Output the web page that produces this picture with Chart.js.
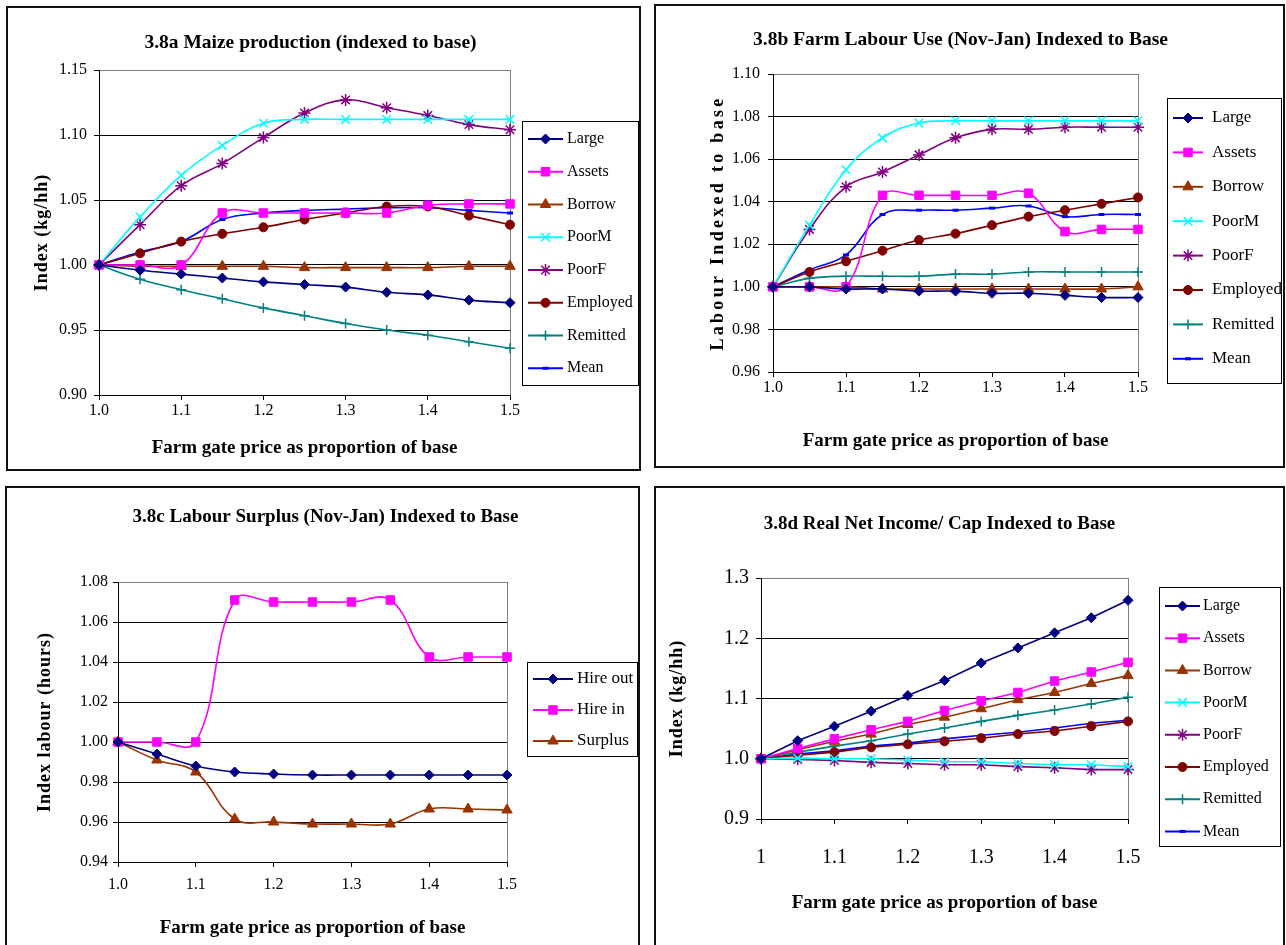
<!DOCTYPE html>
<html>
<head>
  <meta charset="UTF-8">
  <title>Figure 3.8 - price response indexed to base</title>
  <style>
    body {
      margin: 0;
      width: 1286px;
      height: 945px;
      overflow: hidden;
      background: #fff;
      position: relative;
    }

    .panel {
      position: absolute;
      border: 2px solid #111;
    }

    .panel canvas {
      display: block;
    }
  </style>
  <script src="https://cdn.jsdelivr.net/npm/chart.js"></script>
</head>
<body>
  <div class="panel" style="left:6px; top:6px;"><canvas id="chartA" width="631" height="461"></canvas></div>
  <div class="panel" style="left:654px; top:4px;"><canvas id="chartB" width="627" height="460"></canvas></div>
  <div class="panel" style="left:5px; top:486px;"><canvas id="chartC" width="631" height="460"></canvas></div>
  <div class="panel" style="left:654px; top:486px;"><canvas id="chartD" width="627" height="460"></canvas></div>

  <script>
    // farm gate price as proportion of base (x values, same for all panels)
    var price = [1.0, 1.05, 1.1, 1.15, 1.2, 1.25, 1.3, 1.35, 1.4, 1.45, 1.5];
    var groups = ['Large', 'Assets', 'Borrow', 'PoorM', 'PoorF', 'Employed', 'Remitted', 'Mean'];
    var labourGroups = ['Hire out', 'Hire in', 'Surplus'];

    // 3.8a maize production
    var maizeLarge    = [1.000, 0.996, 0.993, 0.990, 0.987, 0.985, 0.983, 0.979, 0.977, 0.973, 0.971];
    var maizeAssets   = [1.000, 1.000, 1.000, 1.040, 1.040, 1.040, 1.040, 1.040, 1.046, 1.047, 1.047];
    var maizeBorrow   = [1.000, 0.999, 0.999, 0.999, 0.999, 0.998, 0.998, 0.998, 0.998, 0.999, 0.999];
    var maizePoorM    = [1.000, 1.037, 1.069, 1.092, 1.109, 1.112, 1.112, 1.112, 1.112, 1.112, 1.112];
    var maizePoorF    = [1.000, 1.031, 1.061, 1.078, 1.098, 1.117, 1.127, 1.121, 1.115, 1.108, 1.104];
    var maizeEmployed = [1.000, 1.009, 1.018, 1.024, 1.029, 1.035, 1.040, 1.045, 1.045, 1.038, 1.031];
    var maizeRemitted = [1.000, 0.989, 0.981, 0.974, 0.967, 0.961, 0.955, 0.950, 0.946, 0.941, 0.936];
    var maizeMean     = [1.000, 1.010, 1.018, 1.035, 1.040, 1.042, 1.043, 1.044, 1.044, 1.042, 1.040];

    // 3.8b farm labour use (Nov-Jan)
    var labourLarge    = [1.000, 1.000, 0.999, 0.999, 0.998, 0.998, 0.997, 0.997, 0.996, 0.995, 0.995];
    var labourAssets   = [1.000, 1.000, 1.000, 1.043, 1.043, 1.043, 1.043, 1.044, 1.026, 1.027, 1.027];
    var labourBorrow   = [1.000, 1.000, 1.000, 0.999, 0.999, 0.999, 0.999, 0.999, 0.999, 0.999, 1.000];
    var labourPoorM    = [1.000, 1.029, 1.055, 1.070, 1.077, 1.078, 1.078, 1.078, 1.078, 1.078, 1.078];
    var labourPoorF    = [1.000, 1.027, 1.047, 1.054, 1.062, 1.070, 1.074, 1.074, 1.075, 1.075, 1.075];
    var labourEmployed = [1.000, 1.007, 1.012, 1.017, 1.022, 1.025, 1.029, 1.033, 1.036, 1.039, 1.042];
    var labourRemitted = [1.000, 1.004, 1.005, 1.005, 1.005, 1.006, 1.006, 1.007, 1.007, 1.007, 1.007];
    var labourMean     = [1.000, 1.008, 1.015, 1.034, 1.036, 1.036, 1.037, 1.038, 1.033, 1.034, 1.034];

    // 3.8c labour surplus (Nov-Jan)
    var hireOut = [1.000, 0.994, 0.988, 0.985, 0.984, 0.9835, 0.9835, 0.9835, 0.9835, 0.9835, 0.9835];
    var hireIn  = [1.000, 1.000, 1.000, 1.071, 1.070, 1.070, 1.070, 1.071, 1.0425, 1.0425, 1.0425];
    var surplus = [1.000, 0.991, 0.985, 0.9615, 0.960, 0.959, 0.959, 0.959, 0.9665, 0.9665, 0.966];

    // 3.8d real net income / cap
    var incomeLarge    = [1.000, 1.030, 1.054, 1.079, 1.105, 1.130, 1.159, 1.184, 1.209, 1.234, 1.263];
    var incomeAssets   = [1.000, 1.017, 1.033, 1.048, 1.062, 1.080, 1.096, 1.110, 1.129, 1.144, 1.160];
    var incomeBorrow   = [1.000, 1.015, 1.029, 1.041, 1.057, 1.069, 1.083, 1.098, 1.110, 1.125, 1.138];
    var incomePoorM    = [1.000, 1.001, 1.000, 1.000, 0.998, 0.995, 0.995, 0.992, 0.990, 0.990, 0.987];
    var incomePoorF    = [1.000, 0.999, 0.997, 0.994, 0.992, 0.990, 0.990, 0.987, 0.985, 0.982, 0.982];
    var incomeEmployed = [1.000, 1.006, 1.011, 1.019, 1.024, 1.029, 1.034, 1.041, 1.046, 1.054, 1.062];
    var incomeRemitted = [1.000, 1.011, 1.021, 1.030, 1.041, 1.051, 1.062, 1.072, 1.081, 1.091, 1.102];
    var incomeMean     = [1.000, 1.008, 1.013, 1.021, 1.026, 1.033, 1.039, 1.044, 1.051, 1.059, 1.064];

    // excel-ish series look
    var seriesStyles = [
      { color: '#000080', point: 'rectRot', r: 5, bw: 1 },
      { color: '#FF00FF', point: 'rect', r: 6, bw: 1 },
      { color: '#993300', point: 'triangle', r: 6, bw: 1 },
      { color: '#00FFFF', point: 'crossRot', r: 6, bw: 1.5 },
      { color: '#800080', point: 'star', r: 6, bw: 1.5 },
      { color: '#800000', point: 'circle', r: 4.5, bw: 1 },
      { color: '#008080', point: 'cross', r: 5, bw: 1.5 },
      { color: '#0000FF', point: 'line', r: 3, bw: 3 }
    ];

    Chart.defaults.font.family = '"Liberation Serif", "Times New Roman", serif';
    Chart.defaults.color = '#000';

    function makeDatasets(names, series, tension) {
      return names.map(function (name, i) {
        var st = seriesStyles[i];
        return {
          label: name,
          data: price.map(function (p, j) { return { x: p, y: series[i][j] }; }),
          borderColor: st.color,
          backgroundColor: st.color,
          borderWidth: 1.6,
          tension: tension,
          pointStyle: st.point,
          pointRadius: st.r,
          pointBorderWidth: st.bw,
          clip: false
        };
      });
    }

    // legend in a box with line + marker swatches
    var boxLegend = {
      id: 'boxLegend',
      afterDraw: function (chart, args, o) {
        var ctx = chart.ctx;
        ctx.save();
        ctx.strokeStyle = '#000';
        ctx.lineWidth = 1;
        ctx.strokeRect(o.left + 0.5, o.top + 0.5, o.right - o.left, o.bottom - o.top);
        ctx.font = o.size + 'px "Liberation Serif"';
        ctx.textBaseline = 'middle';
        ctx.textAlign = 'left';
        chart.data.datasets.forEach(function (ds, i) {
          var y = o.first + i * o.step;
          ctx.strokeStyle = ds.borderColor;
          ctx.lineWidth = 2;
          ctx.beginPath();
          ctx.moveTo(o.lineFrom, y);
          ctx.lineTo(o.lineTo, y);
          ctx.stroke();
          ctx.fillStyle = ds.backgroundColor;
          ctx.lineWidth = ds.pointBorderWidth;
          Chart.helpers.drawPoint(ctx, {
            pointStyle: ds.pointStyle, radius: ds.pointRadius, rotation: 0, borderWidth: ds.pointBorderWidth
          }, (o.lineFrom + o.lineTo) / 2, y);
          ctx.fillStyle = '#000';
          ctx.fillText(ds.label, o.text, y);
        });
        ctx.restore();
      }
    };

    // grey right edge of the plot area
    var plotFrame = {
      id: 'plotFrame',
      beforeDatasetsDraw: function (chart) {
        var a = chart.chartArea, ctx = chart.ctx;
        ctx.save();
        ctx.strokeStyle = '#808080';
        ctx.lineWidth = 1;
        ctx.beginPath();
        ctx.moveTo(Math.round(a.right) + 0.5, a.top);
        ctx.lineTo(Math.round(a.right) + 0.5, a.bottom);
        ctx.stroke();
        ctx.restore();
      }
    };

    // letter-spaced y axis title, and a wider, shifted box for the chart title
    var titleTweaks = {
      id: 'titleTweaks',
      afterLayout: function (chart, args, o) {
        var t = chart.titleBlock;
        if (t) {
          var c = (chart.chartArea.left + chart.chartArea.right) / 2 + o.shift;
          t.left = c - 300;
          t.right = c + 300;
          t.width = 600;
        }
        var s = chart.scales.y;
        if (s._spaced) return;
        var draw = s.drawTitle;
        s.drawTitle = function () {
          chart.ctx.save();
          chart.ctx.letterSpacing = o.spacing + 'px';
          draw.call(s);
          chart.ctx.restore();
        };
        s._spaced = true;
      }
    };

    function makeChart(id, datasets, cfg) {
      var ctx = document.getElementById(id).getContext('2d');
      return new Chart(ctx, {
        type: 'line',
        data: { datasets: datasets },
        plugins: [boxLegend, plotFrame, titleTweaks],
        options: {
          responsive: false,
          animation: false,
          events: [],
          layout: { padding: { left: 0, top: 0, right: cfg.padRight, bottom: 0 } },
          plugins: {
            legend: { display: false },
            tooltip: { enabled: false },
            title: {
              display: true,
              text: cfg.title,
              fullSize: false,
              color: '#000',
              font: { size: cfg.titleSize, weight: 'bold', lineHeight: 1.2 },
              padding: { top: cfg.titleTop, bottom: cfg.titleBottom }
            },
            boxLegend: cfg.legend,
            titleTweaks: { spacing: cfg.ySpacing, shift: cfg.titleShift }
          },
          scales: {
            x: {
              type: 'linear',
              min: 1,
              max: 1.5,
              afterFit: function (s) { s.height = cfg.xHeight; },
              grid: { drawOnChartArea: false, tickLength: 5, tickColor: '#000' },
              border: { color: '#000' },
              ticks: {
                stepSize: 0.1,
                padding: cfg.xPad,
                font: { size: cfg.tickSize },
                callback: cfg.xLabel
              },
              title: {
                display: true,
                text: 'Farm gate price as proportion of base',
                font: { size: 19, weight: 'bold' },
                padding: { top: 0, bottom: cfg.xTitleBottom }
              }
            },
            y: {
              min: cfg.yMin,
              max: cfg.yMax,
              afterFit: function (s) { s.width = cfg.yWidth; },
              grid: {
                color: function (c) {
                  return c.tick && Math.abs(c.tick.value - cfg.yMax) < 1e-6 ? '#808080' : '#000';
                },
                tickLength: 5,
                tickColor: '#000'
              },
              border: { color: '#000' },
              ticks: {
                stepSize: cfg.yStep,
                padding: cfg.yPad,
                font: { size: cfg.tickSize },
                callback: function (v) { return v.toFixed(cfg.yDec); }
              },
              title: {
                display: true,
                text: cfg.yTitle,
                font: { size: 18, weight: 'bold' },
                padding: { top: cfg.yTitleTop, bottom: 0 }
              }
            }
          }
        }
      });
    }

    function oneDecimal(v) { return v.toFixed(1); }

    makeChart('chartA', makeDatasets(groups,
      [maizeLarge, maizeAssets, maizeBorrow, maizePoorM, maizePoorF, maizeEmployed, maizeRemitted, maizeMean], 0.4), {
      title: '3.8a Maize production (indexed to base)', titleSize: 19.5, titleTop: 23.3, titleBottom: 15.3, titleShift: 6,
      padRight: 129, yWidth: 91, xHeight: 74, xPad: 1, xTitleBottom: 9.6, tickSize: 16, xLabel: oneDecimal,
      yMin: 0.9, yMax: 1.15, yStep: 0.05, yDec: 2, yPad: 7,
      yTitle: 'Index (kg/hh)', yTitleTop: 23.2, ySpacing: 1,
      legend: { left: 514, top: 113, right: 630, bottom: 377, first: 131, step: 32.75, lineFrom: 520, lineTo: 555, text: 559, size: 16 }
    });

    makeChart('chartB', makeDatasets(groups,
      [labourLarge, labourAssets, labourBorrow, labourPoorM, labourPoorF, labourEmployed, labourRemitted, labourMean], 0.4), {
      title: '3.8b Farm Labour Use (Nov-Jan) Indexed to Base', titleSize: 19.5, titleTop: 22.3, titleBottom: 22.3, titleShift: 5,
      padRight: 145, yWidth: 117, xHeight: 94, xPad: 1, xTitleBottom: 13.6, tickSize: 16, xLabel: oneDecimal,
      yMin: 0.96, yMax: 1.10, yStep: 0.02, yDec: 2, yPad: 8,
      yTitle: 'Labour Indexed to base', yTitleTop: 51.2, ySpacing: 3.3,
      legend: { left: 511, top: 92, right: 625, bottom: 377, first: 112, step: 34.4, lineFrom: 517, lineTo: 547, text: 556, size: 17 }
    });

    makeChart('chartC', makeDatasets(labourGroups, [hireOut, hireIn, surplus], 0.4), {
      title: '3.8c Labour Surplus (Nov-Jan) Indexed to Base', titleSize: 19, titleTop: 17.6, titleBottom: 53.6, titleShift: 13,
      padRight: 131, yWidth: 111, xHeight: 86, xPad: 8, xTitleBottom: 8.6, tickSize: 16, xLabel: oneDecimal,
      yMin: 0.94, yMax: 1.08, yStep: 0.02, yDec: 2, yPad: 5,
      yTitle: 'Index labour (hours)', yTitleTop: 27.2, ySpacing: 1,
      legend: { left: 520, top: 174, right: 630, bottom: 268, first: 191, step: 31, lineFrom: 526, lineTo: 566, text: 570, size: 17 }
    });

    makeChart('chartD', makeDatasets(groups,
      [incomeLarge, incomeAssets, incomeBorrow, incomePoorM, incomePoorF, incomeEmployed, incomeRemitted, incomeMean], 0), {
      title: '3.8d Real Net Income/ Cap Indexed to Base', titleSize: 19, titleTop: 24.6, titleBottom: 42.6, titleShift: -5,
      padRight: 155, yWidth: 105, xHeight: 129, xPad: 22, xTitleBottom: 33.6, tickSize: 20,
      xLabel: function (v) { return v === 1 ? '1' : v.toFixed(1); },
      yMin: 0.9, yMax: 1.3, yStep: 0.1, yDec: 1, yPad: 7,
      yTitle: 'Index (kg/hh)', yTitleTop: 10.2, ySpacing: 1,
      legend: { left: 503, top: 99, right: 624, bottom: 358, first: 118, step: 32.2, lineFrom: 509, lineTo: 544, text: 547, size: 16 }
    });
  </script>
</body>
</html>
